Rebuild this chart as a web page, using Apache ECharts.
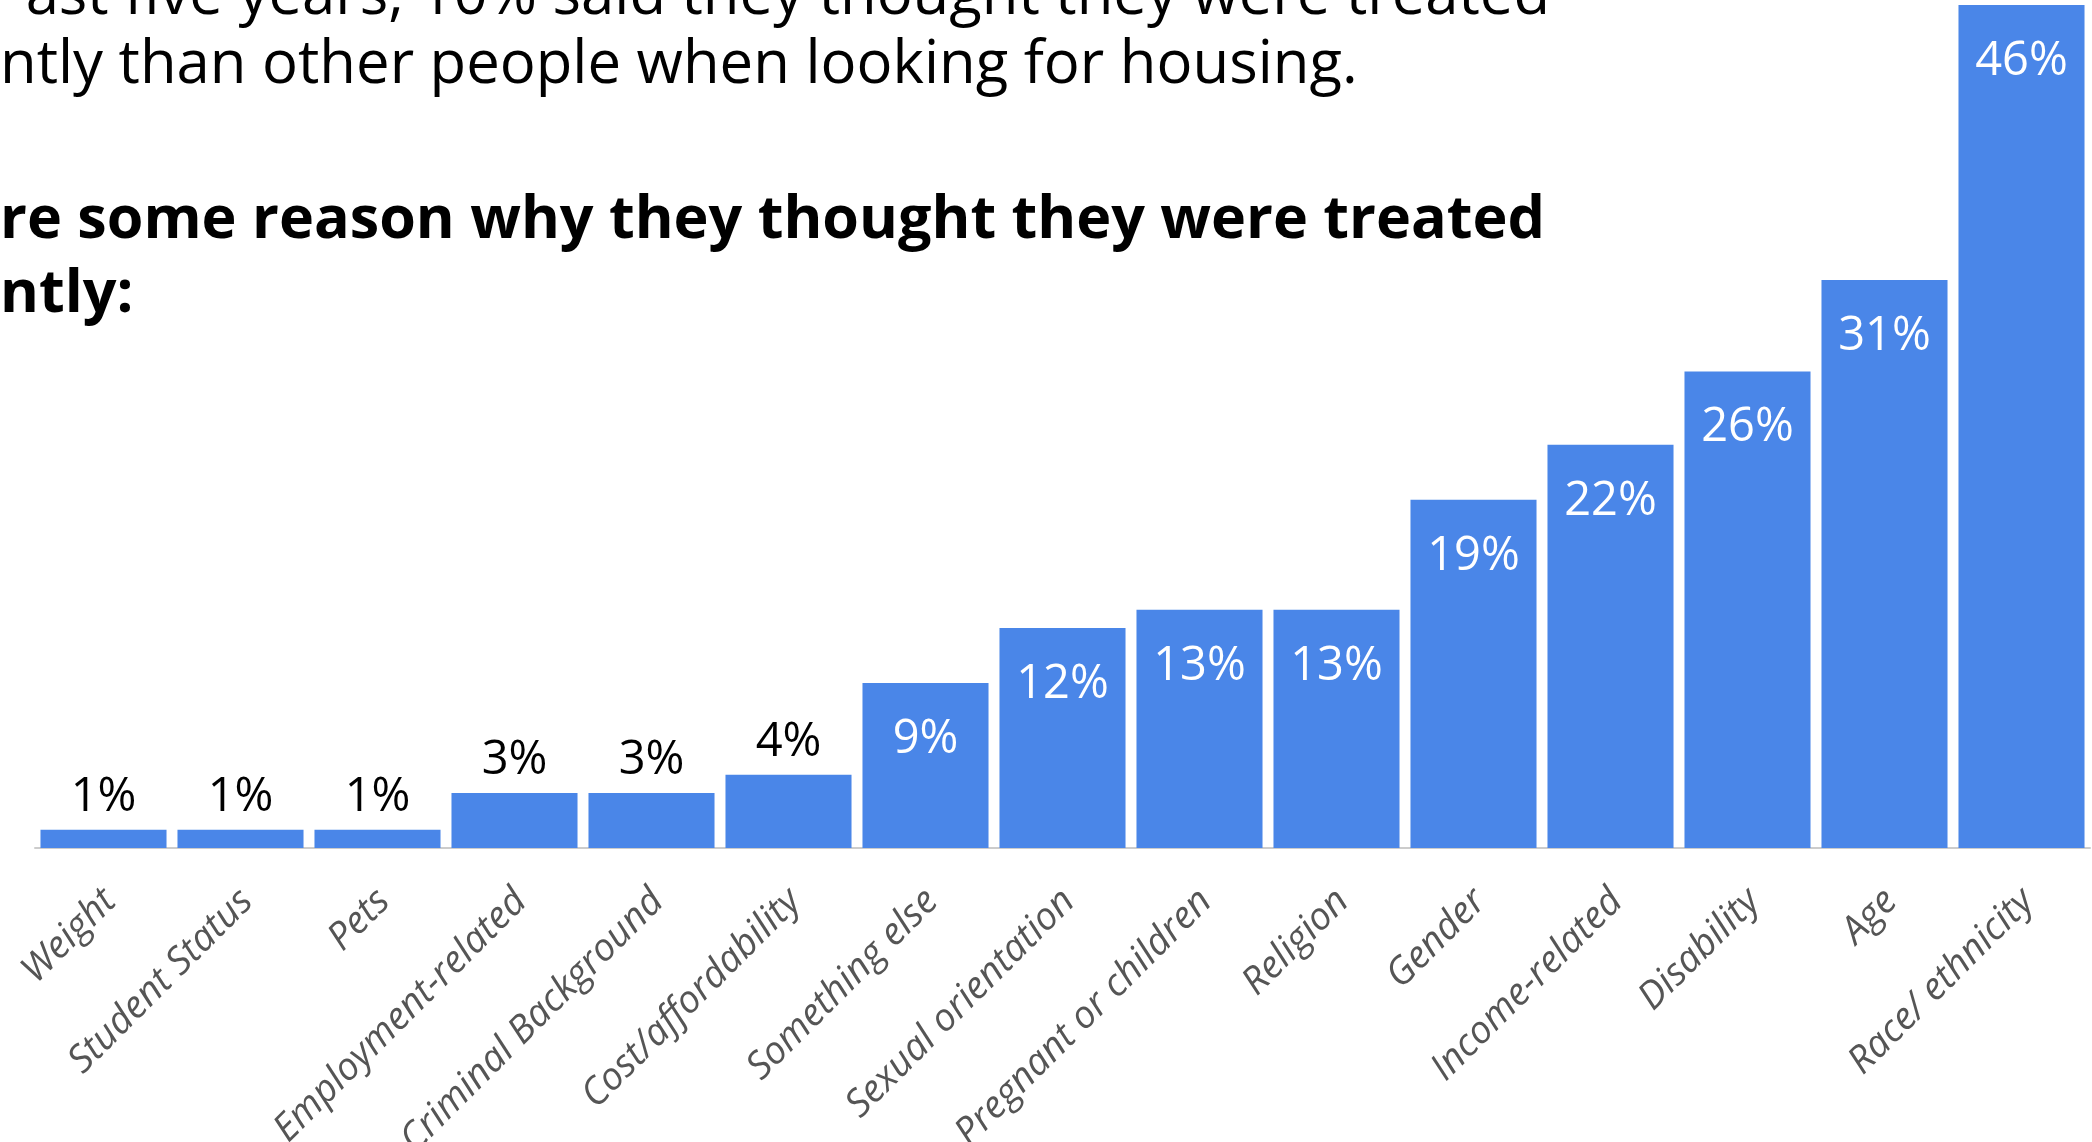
<!DOCTYPE html>
<html>
<head>
<meta charset="utf-8">
<title>Reasons for different treatment when looking for housing</title>
<script src="https://cdn.jsdelivr.net/npm/echarts@6/dist/echarts.min.js"></script>
<style>
  html, body { margin: 0; padding: 0; background: #ffffff; }
  #chart { width: 2092px; height: 1142px; }
</style>
</head>
<body>
<div id="chart"></div>
<script>
// Reasons respondents gave for being treated differently (share of those treated differently, %)
const categories = [
  'Weight', 'Student Status', 'Pets', 'Employment-related', 'Criminal Background',
  'Cost/affordability', 'Something else', 'Sexual orientation', 'Pregnant or children',
  'Religion', 'Gender', 'Income-related', 'Disability', 'Age', 'Race/ ethnicity'
];
const shares = [1, 1, 1, 3, 3, 4, 9, 12, 13, 13, 19, 22, 26, 31, 46];

// Heading text lines
const introLines = [
  'ast five years, 10% said they thought they were treated',
  'ntly than other people when looking for housing.'
];
const reasonLines = [
  're some reason why they thought they were treated',
  'ntly:'
];

const FONT = '"Open Sans", "Noto Sans", sans-serif';
const BAR_BLUE = '#4a86e8';

// Size a font so a line of text spans a given width
function fitSize(text, weight, targetWidth, base) {
  const ctx = document.createElement('canvas').getContext('2d');
  ctx.font = weight + ' ' + base + 'px "Open Sans"';
  const w = ctx.measureText(text).width;
  return base * targetWidth / w;
}

const chart = echarts.init(document.getElementById('chart'), null, { renderer: 'canvas' });

function build() {
  const introSize = fitSize(introLines[1], 'normal', 1358, 64);
  const reasonSize = fitSize(reasonLines[0], 'bold', 1545, 64);

  const barData = shares.map(v => ({
    value: v,
    label: v < 5
      ? { position: 'top', color: '#000000', distance: 9 }
      : { position: 'insideTop', color: '#ffffff', distance: 33 }
  }));

  const option = {
    backgroundColor: '#ffffff',
    animation: false,
    graphic: [
      { type: 'text', right: 2092 - 1550, top: -33,
        style: { text: introLines[0], font: 'normal ' + introSize + 'px ' + FONT, fill: '#000', textAlign: 'right' } },
      { type: 'text', left: 0, top: 36,
        style: { text: introLines[1], font: 'normal ' + introSize + 'px ' + FONT, fill: '#000' } },
      { type: 'text', left: 0, top: 192,
        style: { text: reasonLines[0], font: 'bold ' + reasonSize + 'px ' + FONT, fill: '#000' } },
      { type: 'text', left: 0, top: 266,
        style: { text: reasonLines[1], font: 'bold ' + reasonSize + 'px ' + FONT, fill: '#000' } }
    ],
    grid: {
      left: 35, right: 2, top: 5, bottom: 294,
      containLabel: false,
      outerBoundsMode: 'none'
    },
    xAxis: {
      type: 'category',
      data: categories,
      axisLine: { show: true, lineStyle: { color: '#cccccc', width: 2 } },
      axisTick: { show: false },
      axisLabel: {
        interval: 0,
        rotate: 45,
        align: 'right',
        verticalAlign: 'top',
        margin: 27,
        padding: [0, 10, 0, 0],
        fontFamily: FONT,
        fontStyle: 'italic',
        fontSize: 38,
        color: '#555555'
      }
    },
    yAxis: {
      type: 'value',
      min: 0,
      max: 46,
      show: false,
      splitLine: { show: false }
    },
    series: [{
      type: 'bar',
      data: barData,
      barCategoryGap: '8%',
      itemStyle: { color: BAR_BLUE },
      label: {
        show: true,
        formatter: '{c}%',
        fontFamily: FONT,
        fontSize: 47
      }
    }]
  };
  chart.setOption(option);
}

if (document.fonts && document.fonts.load) {
  Promise.all([
    document.fonts.load('normal 64px "Open Sans"'),
    document.fonts.load('bold 64px "Open Sans"'),
    document.fonts.load('italic 38px "Open Sans"')
  ]).then(build, build);
} else {
  build();
}
</script>
</body>
</html>
